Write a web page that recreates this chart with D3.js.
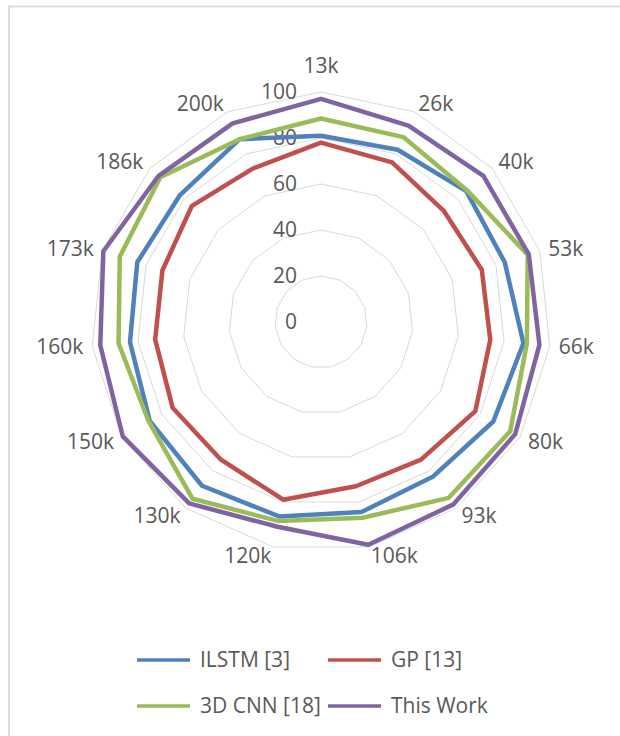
<!DOCTYPE html>
<html>
<head>
<meta charset="utf-8">
<script src="https://cdn.jsdelivr.net/npm/d3@7"></script>
<style>
  html, body { margin: 0; padding: 0; background: #fff; }
  svg { display: block; }
  text { font-family: "Open Sans", "Liberation Sans", sans-serif; }
</style>
</head>
<body>
<svg id="chart" width="620" height="736"></svg>
<script>
const categories = ["13k","26k","40k","53k","66k","80k","93k","106k","120k","130k","150k","160k","173k","186k","200k"];
const seriesNames = ["ILSTM [3]", "GP [13]", "3D CNN [18]", "This Work"];
const ilstm   = [81, 82, 85, 84, 88.5, 86.5, 83, 84.5, 86.5, 88, 86, 83.5, 84, 82.5, 87];
const gp      = [78, 76, 72, 73.5, 74, 77.5, 74, 73, 79, 74, 74.5, 72.5, 72.5, 75.5, 73];
const cnn3d   = [88.5, 88, 85.5, 94.5, 90, 95, 94.5, 87, 88.5, 95, 86.5, 88.5, 92, 94, 87];
const thisWork= [97, 93.5, 95, 95, 95.5, 97.5, 98, 99, 91, 97.5, 99.5, 96.5, 99.5, 95, 94.5];
const tickValues = [0, 20, 40, 60, 80, 100];
const colors = ["#4F81BD", "#C0504D", "#9BBB59", "#8064A2"];
const seriesValues = [ilstm, gp, cnn3d, thisWork];

const svg = d3.select("#chart");
const cx = 321, cy = 322, R = 230;

// outer frame
svg.append("rect").attr("x", 9).attr("y", 6.5).attr("width", 700).attr("height", 800)
  .attr("fill", "none").attr("stroke", "#d9d9d9").attr("stroke-width", 1.8);

const r = d3.scaleLinear().domain([0, 100]).range([0, R]);
const angle = d3.scaleLinear().domain([0, categories.length]).range([0, 2 * Math.PI]);

const g = svg.append("g").attr("transform", `translate(${cx},${cy})`);

// grid rings
const ringLine = d3.lineRadial()
  .angle((d, i) => angle(i))
  .radius(d => r(d))
  .curve(d3.curveLinearClosed);
tickValues.filter(v => v > 0).forEach(v => {
  g.append("path")
    .attr("d", ringLine(categories.map(() => v)))
    .attr("fill", "none").attr("stroke", "#d9d9d9").attr("stroke-width", 1);
});

// tick labels
g.selectAll("text.tick").data(tickValues).join("text")
  .attr("class", "tick")
  .attr("x", -24)
  .attr("y", d => -r(d))
  .attr("dy", "0.35em")
  .attr("text-anchor", "end")
  .attr("font-size", 21)
  .attr("fill", "#595959")
  .text(d => d);

// series
const seriesLine = d3.lineRadial()
  .angle((d, i) => angle(i))
  .radius(d => r(d))
  .curve(d3.curveLinearClosed);
seriesValues.forEach((vals, k) => {
  g.append("path")
    .attr("d", seriesLine(vals))
    .attr("fill", "none")
    .attr("stroke", colors[k])
    .attr("stroke-width", 4.5)
    .attr("stroke-linejoin", "round");
});

// category labels
categories.forEach((c, i) => {
  const a = angle(i);
  const s = Math.sin(a), co = Math.cos(a);
  const vx = r(100) * s, vy = -r(100) * co;
  let x, y, anchor;
  if (Math.abs(s) < 0.01) {
    anchor = "middle"; x = vx; y = vy - 26;
  } else {
    anchor = s > 0 ? "start" : "end";
    const gap = 9 * Math.abs(s);
    x = vx + (s > 0 ? gap : -gap);
    y = vy - 9 * co;
  }
  g.append("text")
    .attr("x", x).attr("y", y).attr("dy", "0.35em")
    .attr("text-anchor", anchor)
    .attr("font-size", 21)
    .attr("fill", "#595959")
    .text(c);
});

// legend
const legendPos = [[137, 660], [328, 660], [137, 706], [328, 706]];
seriesNames.forEach((n, k) => {
  const [lx, ly] = legendPos[k];
  svg.append("line").attr("x1", lx).attr("x2", lx + 53).attr("y1", ly).attr("y2", ly)
    .attr("stroke", colors[k]).attr("stroke-width", 3.5);
  svg.append("text").attr("x", lx + 63).attr("y", ly).attr("dy", "0.35em")
    .attr("font-size", 21).attr("fill", "#595959").text(n);
});
</script>
</body>
</html>
